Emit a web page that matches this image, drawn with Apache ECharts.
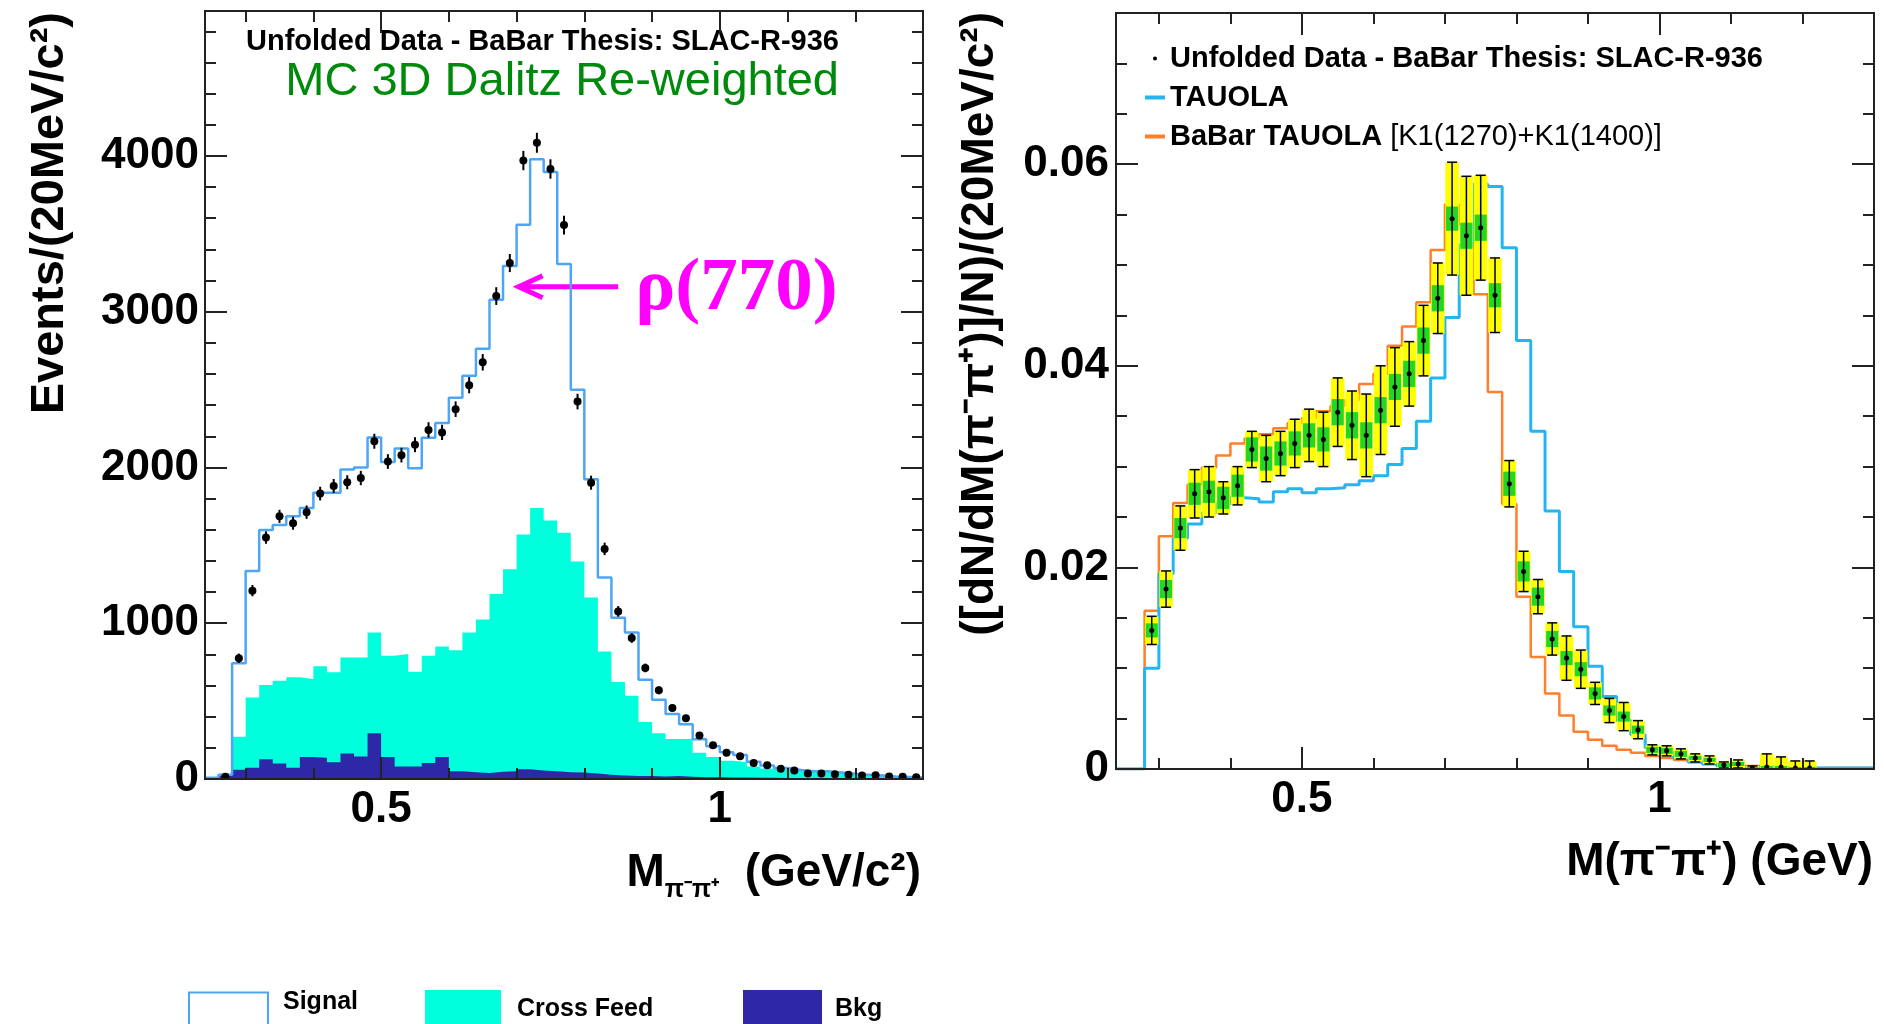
<!DOCTYPE html>
<html>
<head>
<meta charset="utf-8">
<title>M(pi-pi+) unfolded data vs MC</title>
<script src="https://cdn.jsdelivr.net/npm/echarts@6/dist/echarts.min.js"></script>
<style>
  html, body { margin: 0; padding: 0; background: #fff; }
  #chart { width: 1884px; height: 1024px; }
</style>
</head>
<body>
<div id="chart"></div>
<script>
// bin centres (20 MeV bins from 0.24 to 1.30 GeV)
const massBins = [
  0.25, 0.27, 0.29, 0.31, 0.33, 0.35, 0.37, 0.39, 0.41, 0.43,
  0.45, 0.47, 0.49, 0.51, 0.53, 0.55, 0.57, 0.59, 0.61, 0.63,
  0.65, 0.67, 0.69, 0.71, 0.73, 0.75, 0.77, 0.79, 0.81, 0.83,
  0.85, 0.87, 0.89, 0.91, 0.93, 0.95, 0.97, 0.99, 1.01, 1.03,
  1.05, 1.07, 1.09, 1.11, 1.13, 1.15, 1.17, 1.19, 1.21, 1.23,
  1.25, 1.27, 1.29
];

// left panel : events / 20 MeV
const mcTotal = [
  8, 27, 743, 1336, 1599, 1631, 1686, 1740, 1837, 1837,
  1986, 2000, 2192, 2035, 2122, 1995, 2190, 2285, 2447, 2588,
  2762, 3076, 3293, 3558, 3978, 3897, 3306, 2499, 1924, 1293,
  1035, 940, 637, 509, 417, 352, 255, 211, 171, 154,
  110, 87, 70, 58, 50, 50, 42, 34, 28, 22,
  16, 13, 10
];
const crossFeed = [
  0, 0, 211, 450, 477, 531, 580, 501, 588, 578,
  617, 636, 647, 650, 721, 607, 688, 710, 778, 897,
  986, 1141, 1298, 1507, 1686, 1610, 1537, 1355, 1130, 791,
  601, 515, 347, 277, 238, 243, 156, 130, 107, 99,
  73, 60, 55, 48, 43, 44, 36, 29, 23, 19,
  13, 10, 7
];
const bkg = [
  8, 27, 60, 73, 127, 100, 73, 141, 136, 108,
  163, 144, 293, 141, 81, 81, 103, 141, 49, 43,
  38, 46, 49, 62, 54, 49, 43, 41, 35, 27,
  22, 19, 19, 16, 19, 14, 12, 11, 10, 9,
  8, 8, 7, 6, 6, 5, 5, 4, 4, 3,
  3, 3, 3
];
const dataLeft = [
  null, 14, 775, 1209, 1550, 1686, 1642, 1713, 1832, 1881,
  1905, 1932, 2168, 2038, 2079, 2146, 2241, 2225, 2374, 2528,
  2675, 3100, 3312, 3970, 4084, 3916, 3556, 2423, 1902, 1477,
  1076, 905, 713, 569, 455, 390, 279, 217, 168, 146,
  103, 89, 65, 54, 35, 35, 30, 27, 22, 24,
  16, 14, 11
];
const dataLeftErr = [
  0, 8, 30, 36, 40, 42, 42, 43, 44, 45,
  45, 46, 48, 47, 47, 48, 49, 49, 50, 52,
  53, 57, 58, 62, 64, 62, 60, 50, 45, 40,
  34, 31, 28, 25, 22, 21, 18, 16, 14, 13,
  11, 10, 9, 8, 7, 7, 6, 6, 5, 5,
  4, 4, 4
];

// right panel : normalised spectrum
const tauola = [
  0, 0, 0.0100, 0.0194, 0.0229, 0.0243, 0.0254, 0.0263, 0.0269, 0.0268,
  0.0265, 0.0275, 0.0278, 0.0274, 0.0278, 0.0279, 0.0282, 0.0286, 0.0291, 0.0302,
  0.0318, 0.0345, 0.0388, 0.0448, 0.0520, 0.0580, 0.0578, 0.0517, 0.0425, 0.0335,
  0.0256, 0.0196, 0.0141, 0.0102, 0.0072, 0.0048, 0.0034, 0.0021, 0.0016, 0.0011,
  0.0007, 0.0005, 0.0003, 0.0002, 0.0002, 0.0002, 0.0001, 0.0001, 0.0001, 0.0001,
  0.0001, 0.0001, 0.0001
];
const babarTauola = [
  0, 0, 0.0157, 0.0231, 0.0264, 0.0282, 0.0299, 0.0311, 0.0323, 0.0328,
  0.0332, 0.0338, 0.0343, 0.0348, 0.0355, 0.0360, 0.0366, 0.0382, 0.0392, 0.0420,
  0.0439, 0.0463, 0.0515, 0.0560, 0.0540, 0.0471, 0.0374, 0.0263, 0.0171, 0.0111,
  0.0075, 0.0053, 0.0037, 0.0029, 0.0023, 0.0019, 0.0016, 0.0013, 0.0011, 0.0009,
  0.0007, 0.0005, 0.0004, 0.0003, 0.0003, 0.0002, 0.0002, 0.0002, 0.0001, 0.0001,
  0.0001, 0.0001, 0.0001
];
const dataRight = [
  null, null, 0.01375, 0.01785, 0.0239, 0.0273, 0.0275, 0.0269, 0.0281, 0.0317,
  0.0308, 0.0313, 0.0323, 0.0331, 0.0327, 0.0354, 0.0341, 0.0331, 0.0356, 0.0379,
  0.0392, 0.0425, 0.0467, 0.0546, 0.0529, 0.0537, 0.0470, 0.0283, 0.0196, 0.0171,
  0.0129, 0.0110, 0.0099, 0.0075, 0.0058, 0.0052, 0.0039, 0.0019, 0.0018, 0.0015,
  0.0011, 0.0009, 0.0004, 0.0005, 0.0001, 0.0002, 0.0002, 0.0001, 0.0001, null,
  null, null, null
];
const statErr = [
  0, 0, 0.0007, 0.0009, 0.0010, 0.0011, 0.0011, 0.0011, 0.0011, 0.0012,
  0.0012, 0.0012, 0.0012, 0.0012, 0.0012, 0.0013, 0.0013, 0.0013, 0.0013, 0.0013,
  0.0013, 0.0013, 0.0013, 0.0012, 0.0013, 0.0013, 0.0012, 0.0012, 0.0010, 0.0009,
  0.0008, 0.0007, 0.0007, 0.0006, 0.0005, 0.0005, 0.0004, 0.0003, 0.0003, 0.0003,
  0.0002, 0.0002, 0.0002, 0.0002, 0.0001, 0.0001, 0.0001, 0.0001, 0.0001, 0,
  0, 0, 0
];
const totalErr = [
  0, 0, 0.0014, 0.0018, 0.0022, 0.0024, 0.0025, 0.0016, 0.0019, 0.0018,
  0.0023, 0.0022, 0.0024, 0.0026, 0.0027, 0.0034, 0.0034, 0.0041, 0.0044, 0.0039,
  0.0032, 0.0035, 0.0035, 0.0056, 0.0059, 0.0052, 0.0037, 0.0023, 0.0020, 0.0017,
  0.0016, 0.0022, 0.0019, 0.0011, 0.0012, 0.0014, 0.0009, 0.0005, 0.0005, 0.0005,
  0.0004, 0.0004, 0.0003, 0.0004, 0.0002, 0.0013, 0.0010, 0.0007, 0.0007, 0,
  0, 0, 0
];

// ticks and labels
const xMajorTicks = [0.5, 1.0];
const xMinorTicks = [0.3, 0.4, 0.6, 0.7, 0.8, 0.9, 1.1, 1.2];
const xTickLabels = [0.5, 1];
const leftYMajor = [0, 1000, 2000, 3000, 4000];
const leftYMinor = [200, 400, 600, 800, 1200, 1400, 1600, 1800, 2200, 2400, 2600, 2800,
  3200, 3400, 3600, 3800, 4200, 4400, 4600, 4800];
const rightYMajor = [0, 0.02, 0.04, 0.06];
const rightYMinor = [0.005, 0.01, 0.015, 0.025, 0.03, 0.035, 0.045, 0.05, 0.055, 0.065, 0.07];

const DATA_NAME = 'Unfolded Data - BaBar Thesis: SLAC-R-936';
const BABAR_NAME = 'BaBar TAUOLA [K1(1270)+K1(1400)]';
const FONT = '"Liberation Sans", Arial, Helvetica, sans-serif';
const SERIF = '"Liberation Serif", "Times New Roman", serif';
const HALF_BIN = 0.01;

var chartDom = document.getElementById('chart');
var myChart = echarts.init(chartDom);

// histogram outline: two points per bin
function histSteps(values) {
  const pts = [];
  massBins.forEach((c, i) => {
    pts.push([c - HALF_BIN, values[i]], [c + HALF_BIN, values[i]]);
  });
  return pts;
}

const cfStack = crossFeed.map((v, i) => v + bkg[i]);

const leftPoints = [];
massBins.forEach((c, i) => {
  if (dataLeft[i] !== null) leftPoints.push([c, dataLeft[i], dataLeftErr[i]]);
});
const rightPoints = [];
massBins.forEach((c, i) => {
  if (dataRight[i] !== null) rightPoints.push([c, dataRight[i], statErr[i], totalErr[i]]);
});

function axis(grid, position, min, max, ticks, len, labels, fmt, margin) {
  return {
    type: 'value', gridIndex: grid, position: position, min: min, max: max, z: 10,
    axisLine: { show: true, onZero: false, lineStyle: { color: '#222', width: 2 } },
    axisTick: { show: true, inside: true, length: len, customValues: ticks,
      lineStyle: { color: '#222', width: 2 } },
    axisLabel: labels ? {
      show: true, customValues: labels, formatter: fmt, margin: margin,
      color: '#000', fontSize: 44, fontWeight: 'bold', fontFamily: FONT
    } : { show: false },
    splitLine: { show: false }
  };
}

const numFmt = v => (v === 0 ? '0' : String(v));
const decFmt = v => (v === 0 ? '0' : v.toFixed(2));

const xAxes = [];
const yAxes = [];
[0, 1].forEach(g => {
  xAxes.push(axis(g, 'bottom', 0.24, 1.30, xMajorTicks, 22, xTickLabels, numFmt, 9));
  xAxes.push(axis(g, 'bottom', 0.24, 1.30, xMinorTicks, 11));
  xAxes.push(axis(g, 'top', 0.24, 1.30, xMajorTicks, 22));
  xAxes.push(axis(g, 'top', 0.24, 1.30, xMinorTicks, 11));
});
yAxes.push(axis(0, 'left', 0, 4930, leftYMajor, 22, leftYMajor, numFmt, 6));
yAxes.push(axis(0, 'left', 0, 4930, leftYMinor, 11));
yAxes.push(axis(0, 'right', 0, 4930, leftYMajor, 22));
yAxes.push(axis(0, 'right', 0, 4930, leftYMinor, 11));
yAxes.push(axis(1, 'left', 0, 0.075, rightYMajor, 22, rightYMajor, decFmt, 7));
yAxes.push(axis(1, 'left', 0, 0.075, rightYMinor, 11));
yAxes.push(axis(1, 'right', 0, 0.075, rightYMajor, 22));
yAxes.push(axis(1, 'right', 0, 0.075, rightYMinor, 11));

function stepLine(name, values, xi, color, width, area, z) {
  const s = {
    name: name, type: 'line', data: histSteps(values),
    xAxisIndex: xi, yAxisIndex: xi, symbol: 'none', showSymbol: false,
    animation: false, silent: true, z: z,
    itemStyle: { color: color },
    lineStyle: { color: color, width: area ? 0 : width }
  };
  if (area) s.areaStyle = { color: color, opacity: 1 };
  return s;
}

const legendText = { fontSize: 25, fontWeight: 'bold', color: '#000', fontFamily: FONT };

var option = {
  animation: false,
  grid: [
    { left: 205, top: 11, width: 718, height: 768 },
    { left: 1116, top: 13, width: 758, height: 756 }
  ],
  xAxis: xAxes,
  yAxis: yAxes,
  legend: [
    {
      selectedMode: false, left: 188, top: 990, padding: 0, itemWidth: 79, itemHeight: 38,
      data: [{ name: 'Signal', icon: 'rect', itemStyle: { color: '#fff', borderColor: '#4ea5f5', borderWidth: 2 } }],
      formatter: '{a|{name}}',
      textStyle: Object.assign({}, legendText, {
        rich: { a: Object.assign({}, legendText, { padding: [0, 0, 18, 10] }) }
      })
    },
    {
      selectedMode: false, left: 425, top: 990, padding: 0, itemWidth: 76, itemHeight: 38,
      data: [{ name: 'Cross Feed', icon: 'rect', itemStyle: { color: '#00ffdc', borderWidth: 0 } }],
      formatter: '{a|{name}}',
      textStyle: Object.assign({}, legendText, {
        rich: { a: Object.assign({}, legendText, { padding: [0, 0, 0, 11] }) }
      })
    },
    {
      selectedMode: false, left: 743, top: 990, padding: 0, itemWidth: 79, itemHeight: 38,
      data: [{ name: 'Bkg', icon: 'rect', itemStyle: { color: '#2e27a8', borderWidth: 0 } }],
      formatter: '{a|{name}}',
      textStyle: Object.assign({}, legendText, {
        rich: { a: Object.assign({}, legendText, { padding: [0, 0, 0, 8] }) }
      })
    },
    {
      selectedMode: false, orient: 'vertical', left: 1145, top: 44, padding: 0,
      itemWidth: 20, itemHeight: 4, itemGap: 10,
      data: [
        { name: DATA_NAME, icon: 'circle', itemStyle: { color: '#000' } },
        { name: 'TAUOLA', icon: 'rect', itemStyle: { color: '#22b5ef' } },
        { name: BABAR_NAME, icon: 'rect', itemStyle: { color: '#ff7f2a' } }
      ],
      formatter: function (name) {
        if (name === BABAR_NAME) return '{b|BaBar TAUOLA }{r|[K1(1270)+K1(1400)]}';
        return '{b|' + name + '}';
      },
      textStyle: {
        fontSize: 29, fontWeight: 'bold', color: '#000', fontFamily: FONT, lineHeight: 29,
        rich: {
          b: { fontSize: 29, fontWeight: 'bold', color: '#000', fontFamily: FONT },
          r: { fontSize: 29, fontWeight: 'normal', color: '#000', fontFamily: FONT }
        }
      }
    }
  ],
  series: [
    // left panel
    stepLine('Cross Feed', cfStack, 0, '#00ffdc', 0, true, 2),
    stepLine('Bkg', bkg, 0, '#2e27a8', 0, true, 2.1),
    stepLine('Signal', mcTotal, 0, '#4ea5f5', 2.5, false, 3),
    {
      name: 'Unfolded data (MC 3D Dalitz re-weighted)', type: 'custom',
      xAxisIndex: 0, yAxisIndex: 0, z: 4, clip: true, silent: true,
      data: leftPoints, encode: { x: 0, y: 1 },
      renderItem: function (params, api) {
        const x = api.value(0), y = api.value(1), e = api.value(2);
        const c = api.coord([x, y]);
        const hi = api.coord([x, y + e]);
        const lo = api.coord([x, y - e]);
        return {
          type: 'group', children: [
            { type: 'line', shape: { x1: c[0], y1: hi[1], x2: c[0], y2: lo[1] }, style: { stroke: '#000', lineWidth: 2 } },
            { type: 'circle', shape: { cx: c[0], cy: c[1], r: 4 }, style: { fill: '#000' } }
          ]
        };
      }
    },
    // right panel
    stepLine(BABAR_NAME, babarTauola, 4, '#ff7f2a', 2.5, false, 2),
    stepLine('TAUOLA', tauola, 4, '#22b5ef', 3, false, 2.1),
    {
      name: DATA_NAME, type: 'custom',
      xAxisIndex: 4, yAxisIndex: 4, z: 4, clip: true, silent: true,
      itemStyle: { color: '#000' },
      data: rightPoints, encode: { x: 0, y: 1 },
      renderItem: function (params, api) {
        const x = api.value(0), y = api.value(1), s = api.value(2), t = api.value(3);
        const c = api.coord([x, y]);
        const yTop = api.coord([x - 0.0095, y + t]);
        const yBot = api.coord([x + 0.0095, y - t]);
        const gTop = api.coord([x - 0.0085, y + s]);
        const gBot = api.coord([x + 0.0085, y - s]);
        const cap = 5;
        return {
          type: 'group', children: [
            { type: 'rect', shape: { x: yTop[0], y: yTop[1], width: yBot[0] - yTop[0], height: yBot[1] - yTop[1] }, style: { fill: '#ffff00' } },
            { type: 'rect', shape: { x: gTop[0], y: gTop[1], width: gBot[0] - gTop[0], height: gBot[1] - gTop[1] }, style: { fill: '#22d822' } },
            { type: 'line', shape: { x1: c[0], y1: yTop[1], x2: c[0], y2: yBot[1] }, style: { stroke: '#000', lineWidth: 1.5 } },
            { type: 'line', shape: { x1: c[0] - cap, y1: yTop[1], x2: c[0] + cap, y2: yTop[1] }, style: { stroke: '#000', lineWidth: 1.5 } },
            { type: 'line', shape: { x1: c[0] - cap, y1: yBot[1], x2: c[0] + cap, y2: yBot[1] }, style: { stroke: '#000', lineWidth: 1.5 } },
            { type: 'circle', shape: { cx: c[0], cy: c[1], r: 2.5 }, style: { fill: '#000' } }
          ]
        };
      }
    }
  ]
};

myChart.setOption(option);

// annotation arrow pointing at the rho peak, given in data coordinates
const arrowFrom = [0.85, 3160];
const arrowTo = [0.703, 3160];
const pFrom = myChart.convertToPixel({ xAxisIndex: 0, yAxisIndex: 0 }, arrowFrom);
const pTo = myChart.convertToPixel({ xAxisIndex: 0, yAxisIndex: 0 }, arrowTo);

myChart.setOption({
  graphic: [
    {
      type: 'text', x: 50, y: 12, rotation: Math.PI / 2,
      style: { text: 'Events/(20MeV/c²)', font: 'bold 47px ' + FONT, fill: '#000', align: 'right', verticalAlign: 'middle' }
    },
    {
      type: 'text', x: 921, y: 873,
      style: {
        text: '{m|M}{s|π⁻π⁺}{m|  (GeV/c²)}', align: 'right', verticalAlign: 'middle',
        rich: {
          m: { fontSize: 46, fontWeight: 'bold', fontFamily: FONT, fill: '#000', lineHeight: 60 },
          s: { fontSize: 25, fontWeight: 'bold', fontFamily: FONT, fill: '#000', lineHeight: 18, verticalAlign: 'bottom' }
        }
      }
    },
    {
      type: 'text', x: 839, y: 42,
      style: { text: DATA_NAME, font: 'bold 29px ' + FONT, fill: '#000', align: 'right', verticalAlign: 'middle' }
    },
    {
      type: 'text', x: 839, y: 82,
      style: { text: 'MC 3D Dalitz Re-weighted', font: '47px ' + FONT, fill: '#008a0c', align: 'right', verticalAlign: 'middle' }
    },
    {
      type: 'line', shape: { x1: pFrom[0], y1: pFrom[1], x2: pTo[0], y2: pTo[1] },
      style: { stroke: '#ff00ff', lineWidth: 5 }
    },
    {
      type: 'polyline', shape: { points: [[pTo[0] + 24, pTo[1] - 11], [pTo[0], pTo[1]], [pTo[0] + 24, pTo[1] + 11]] },
      style: { stroke: '#ff00ff', lineWidth: 5, fill: null }
    },
    {
      type: 'text', x: pFrom[0] + 17, y: pFrom[1] + 3,
      style: { text: 'ρ(770)', font: 'bold 75px ' + SERIF, fill: '#ff00ff', align: 'left', verticalAlign: 'middle' }
    },
    {
      type: 'text', x: 980, y: 12, rotation: Math.PI / 2,
      style: { text: '([dN/dM(π⁻π⁺)]/N)/(20MeV/c²)', font: 'bold 46px ' + FONT, fill: '#000', align: 'right', verticalAlign: 'middle' }
    },
    {
      type: 'text', x: 1873, y: 862,
      style: { text: 'M(π⁻π⁺) (GeV)', font: 'bold 46px ' + FONT, fill: '#000', align: 'right', verticalAlign: 'middle' }
    }
  ]
});

window.addEventListener('resize', () => myChart.resize());
</script>
</body>
</html>
